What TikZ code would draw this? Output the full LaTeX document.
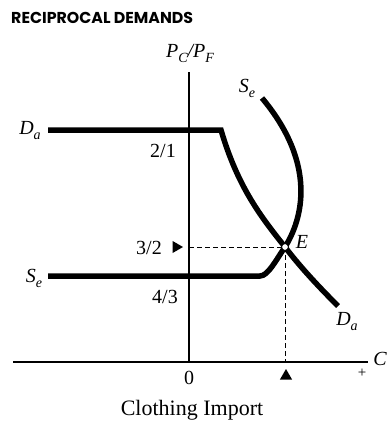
\documentclass[tikz,border=0pt]{standalone}
\usepackage{fontspec}
\setmainfont{Liberation Serif}
\newfontfamily\titlefont{Poppins}
\usetikzlibrary{shapes.geometric}
\newcommand\lowsub[1]{\raisebox{-0.25em}{\fontsize{14}{14}\selectfont #1}}
\begin{document}
\begin{tikzpicture}[x=1pt,y=-1pt,
  curve/.style={line width=5.5pt,line join=miter},
  axisline/.style={line width=1.2pt},
  guide/.style={line width=0.9pt,dash pattern=on 5pt off 3pt},
  lbl/.style={inner sep=0pt,font=\fontsize{20}{20}\selectfont\itshape},
  num/.style={inner sep=0pt,font=\fontsize{20}{20}\selectfont},
  tri/.style={fill=black,regular polygon,regular polygon sides=3,inner sep=0pt,minimum size=14pt}]
\useasboundingbox (0,0) rectangle (390,425);
\fill[white] (0,0) rectangle (390,425);
% title
\node[anchor=west,inner sep=0pt,font=\titlefont\bfseries\fontsize{15.8}{16}\selectfont] (title) at (11,18) {RECIPROCAL DEMANDS};
% axes
\coordinate (O) at (189,362);
\coordinate (ytop) at (189,72);
\coordinate (xl) at (13,362);
\coordinate (xr) at (368,362);
\draw[axisline] (O) -- (ytop);
\draw[axisline] (xl) -- (xr);
\node[lbl] (ylab) at (190,53) {P\lowsub{C}/P\lowsub{F}};
\node[lbl] (xlab) at (380,359) {C};
\node[inner sep=0pt,font=\fontsize{15}{15}\selectfont] (plus) at (362,373) {+};
\node[num] (zero) at (189,378) {0};
\node[inner sep=0pt,font=\fontsize{22}{22}\selectfont] (xtitle) at (192,410) {Clothing Import};
% equilibrium
\coordinate (E) at (285,247);
\coordinate (Eax) at (189,247);
\coordinate (Ebot) at (285,362);
\draw[guide] (Eax) -- (E);
\draw[guide] (E) -- (Ebot);
% D_a curve
\coordinate (D1) at (48,130);
\coordinate (D2) at (221,130);
\coordinate (D3) at (338,306);
\draw[curve] (D1) -- (D2) .. controls (238,188) and (262,218) .. (E) .. controls (301,268) and (320,288) .. (D3);
% S_e curve
\coordinate (S1) at (48,276);
\coordinate (S2) at (260,276);
\coordinate (S3) at (262,98);
\draw[curve] (S1) -- (S2) .. controls (268,276) and (276,260) .. (E) .. controls (302,220) and (318,165) .. (S3);
\node[circle,draw=black,fill=white,line width=1pt,minimum size=7pt,inner sep=0pt] (Edot) at (E) {};
% labels
\node[lbl] (Eln) at (302,242) {E};
\node[lbl] (Dtop) at (30,131) {D\lowsub{a}};
\node[lbl] (Dbot) at (347,322) {D\lowsub{a}};
\node[lbl] (Sleft) at (34,278) {S\lowsub{e}};
\node[lbl] (Stop) at (247,88) {S\lowsub{e}};
\node[num] (n21) at (163,151) {2/1};
\node[num] (n32) at (149,248) {3/2};
\node[num] (n43) at (165,297) {4/3};
\node[tri,rotate=-90] (arr32) at (176,247) {};
\node[tri] (arrC) at (286,376) {};
\end{tikzpicture}
\end{document}
